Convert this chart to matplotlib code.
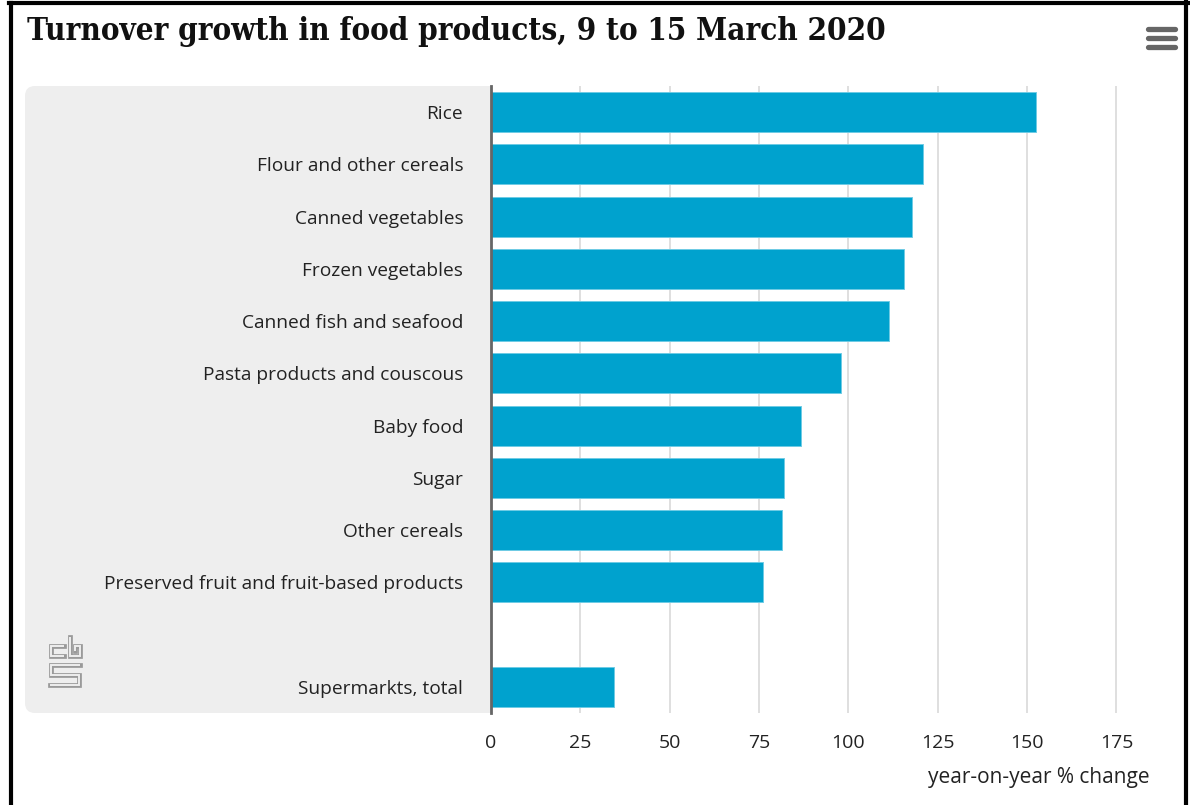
import matplotlib
matplotlib.use("Agg")
import matplotlib.pyplot as plt
from matplotlib.patches import FancyBboxPatch
from matplotlib.lines import Line2D
from matplotlib.transforms import Affine2D

# ---- data ----
categories = [
    "Rice",
    "Flour and other cereals",
    "Canned vegetables",
    "Frozen vegetables",
    "Canned fish and seafood",
    "Pasta products and couscous",
    "Baby food",
    "Sugar",
    "Other cereals",
    "Preserved fruit and fruit-based products",
    "Supermarkts, total",
]
values = [152.5, 121.0, 117.8, 115.7, 111.5, 97.8, 86.8, 81.9, 81.5, 76.2, 34.4]
xticks = [0, 25, 50, 75, 100, 125, 150, 175]
title = "Turnover growth in food products, 9 to 15 March 2020"
xlabel = "year-on-year % change"

W, H = 1190, 805
fig = plt.figure(figsize=(W / 100, H / 100), dpi=100)
fig.patch.set_facecolor("white")
px = Affine2D().scale(1 / 100, -1 / 100).translate(0, H / 100) + fig.dpi_scale_trans

LABEL_FONT = ["Open Sans", "DejaVu Sans"]
BAR = "#00a2ce"
TXT = "#222222"
PANEL = "#eeeeee"

# gray panel behind labels
panel = FancyBboxPatch((25, 86), 500, 627, boxstyle="round,pad=0,rounding_size=10",
                       transform=px, facecolor=PANEL, edgecolor="none", zorder=-1)
fig.patches.append(panel)

left, right, top, bottom = 491, 1150, 86, 713
ax = fig.add_axes([left / W, 1 - bottom / H, (right - left) / W, (bottom - top) / H])
ax.set_facecolor("white")

# positions: gap slot before the total
positions = list(range(len(categories) - 1)) + [len(categories)]
ax.barh(positions, values, height=0.77, color=BAR, edgecolor="#6fcbe4", linewidth=0.7, zorder=3)

ax.set_ylim(len(categories) + 0.5, -0.5)
ax.set_xlim(0, 184.4)
ax.set_yticks(positions)
ax.set_yticklabels(categories, fontfamily=LABEL_FONT, fontsize=13.8, color=TXT)
ax.set_xticks(xticks)
ax.set_xticklabels([str(t) for t in xticks], fontfamily=LABEL_FONT, fontsize=14, color=TXT)
ax.tick_params(axis="y", length=0, pad=20)
ax.tick_params(axis="x", length=0, pad=15)
ax.xaxis.grid(True, color="#d9d9d9", linewidth=1.2, zorder=0)
ax.set_axisbelow(True)
for s in ["top", "right", "bottom"]:
    ax.spines[s].set_visible(False)
ax.spines["left"].set_color("#666666")
ax.spines["left"].set_linewidth(2.0)
ax.spines["left"].set_zorder(4)

fig.text(1150 / W, 1 - 777 / H, xlabel, ha="right", va="center",
         fontfamily=LABEL_FONT, fontsize=15, color=TXT)

# title
fig.text(27 / W, 1 - 40 / H, title, ha="left", va="baseline",
         fontfamily=["DejaVu Serif"], fontstretch="condensed", fontweight="bold",
         fontsize=22.5, color="#111111")

# hamburger menu
for y in (29, 38, 47):
    fig.lines.append(Line2D([1148, 1175], [y, y], transform=px, color="#666666",
                            linewidth=3.8, solid_capstyle="round"))

# cbs logo (simplified, double-line outline)
logo_paths = [
    [(64, 646), (51, 646), (51, 656), (64, 656)],
    [(70, 637), (70, 656), (80, 656), (80, 646), (75, 646), (75, 651)],
    [(80, 665), (51, 665), (51, 675), (79, 675), (79, 685), (50, 685)],
]
for p in logo_paths:
    xs, ys = zip(*p)
    fig.lines.append(Line2D(xs, ys, transform=px, color="#9a9a9a", linewidth=3.4,
                            solid_joinstyle="miter", solid_capstyle="projecting"))
    fig.lines.append(Line2D(xs, ys, transform=px, color=PANEL, linewidth=1.4,
                            solid_joinstyle="miter", solid_capstyle="butt"))

# frame
fc = "#000000"
fig.lines.append(Line2D([11, 11], [3, 805], transform=px, color=fc, linewidth=3))
fig.lines.append(Line2D([9, 1188], [3, 3], transform=px, color=fc, linewidth=3))
fig.lines.append(Line2D([1186, 1186], [1, 805], transform=px, color=fc, linewidth=3))

fig.savefig("out.png", dpi=100)
